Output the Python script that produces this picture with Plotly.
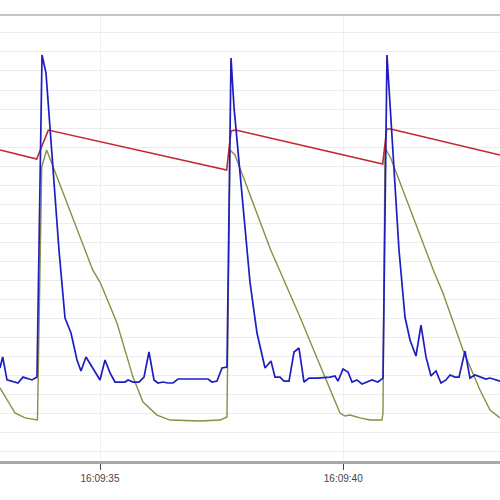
import pandas as pd
import plotly.graph_objects as go

BASE = pd.Timestamp("2024-01-01 16:09:00")

# time in seconds after 16:09:00
blue_t = [32.944, 33.000, 33.088, 33.253, 33.314, 33.417, 33.500, 33.602, 33.705, 33.808,
          33.890, 34.157, 34.281, 34.404, 34.527, 34.609, 34.712, 34.815, 35.000, 35.103,
          35.206, 35.308, 35.411, 35.514, 35.576, 35.678, 35.802, 35.904, 36.007, 36.110,
          36.192, 36.295, 36.398, 36.501, 36.603, 36.912, 37.220, 37.302, 37.405, 37.508,
          37.610, 37.693, 37.754, 38.083, 38.227, 38.392, 38.515, 38.597, 38.700, 38.782,
          38.885, 38.988, 39.090, 39.193, 39.296, 39.460, 39.728, 39.830, 39.892, 39.995,
          40.098, 40.180, 40.283, 40.385, 40.488, 40.591, 40.714, 40.817, 40.899, 41.146,
          41.269, 41.372, 41.495, 41.598, 41.701, 41.804, 41.906, 42.009, 42.112, 42.194,
          42.297, 42.379, 42.503, 42.605, 42.708, 42.811, 42.934, 43.016, 43.222]
blue_v = [4.37, 4.95, 3.74, 3.63, 3.58, 3.89, 3.84, 3.74, 3.89, 20.84,
          19.89, 10.58, 7.00, 6.21, 4.79, 4.21, 4.95, 4.53, 3.74, 4.79,
          4.11, 3.63, 3.63, 3.63, 3.74, 3.63, 3.63, 3.89, 5.21, 3.74,
          3.58, 3.63, 3.58, 3.58, 3.79, 3.79, 3.79, 3.63, 3.68, 4.37,
          4.42, 20.68, 18.11, 8.89, 6.21, 4.37, 4.74, 3.89, 3.89, 3.68,
          3.68, 5.21, 5.42, 3.63, 3.84, 3.84, 3.89, 3.95, 3.68, 4.32,
          4.16, 3.63, 3.74, 3.53, 3.63, 3.74, 3.63, 3.84, 20.84, 10.58,
          7.05, 5.84, 5.00, 6.63, 4.95, 3.95, 4.21, 3.58, 3.74, 4.00,
          3.89, 3.89, 5.26, 3.84, 4.00, 3.89, 3.79, 3.84, 3.68]

red_t = [32.944, 33.699, 33.937, 37.604, 37.693, 37.789, 40.811, 40.893, 40.975, 43.222]
red_v = [15.84, 15.37, 16.89, 14.79, 16.84, 16.89, 15.11, 16.95, 16.95, 15.58]

olive_t = [32.944, 33.088, 33.253, 33.458, 33.715, 33.802, 33.904, 34.850, 35.000, 35.349,
           35.678, 35.884, 36.172, 36.439, 37.055, 37.467, 37.610, 37.672, 37.775, 38.509,
           39.111, 39.460, 39.728, 39.933, 40.036, 40.139, 40.344, 40.550, 40.796, 40.817,
           40.858, 40.975, 41.851, 42.050, 42.461, 42.811, 43.016, 43.222]
olive_v = [3.32, 2.68, 2.00, 1.74, 1.63, 14.95, 15.84, 9.53, 8.89, 6.74,
           3.89, 2.58, 1.89, 1.63, 1.58, 1.63, 1.79, 15.84, 15.58, 10.58,
           7.05, 4.89, 3.21, 2.00, 1.84, 1.89, 1.74, 1.63, 1.63, 2.00,
           15.95, 15.42, 9.53, 8.32, 5.32, 3.21, 2.16, 1.74]

x_start, x_end = 32.9445, 43.2220
y_range = [-0.526, 22.947]


def ts(secs):
    return [BASE + pd.to_timedelta(s, unit="s") for s in secs]


fig = go.Figure()
fig.add_trace(go.Scatter(x=ts(olive_t), y=olive_v, mode="lines",
                         line=dict(color="#8a8f45", width=1.4), showlegend=False))
fig.add_trace(go.Scatter(x=ts(red_t), y=red_v, mode="lines",
                         line=dict(color="#c4282e", width=1.6), showlegend=False))
fig.add_trace(go.Scatter(x=ts(blue_t), y=blue_v, mode="lines",
                         line=dict(color="#1e1ec0", width=1.7), showlegend=False))

fig.update_layout(
    width=500, height=500,
    margin=dict(l=0, r=0, t=15, b=39),
    paper_bgcolor="white", plot_bgcolor="white",
    xaxis=dict(
        type="date",
        range=ts([x_start, x_end]),
        tick0=BASE + pd.to_timedelta(35, unit="s"),
        dtick=5000,
        tickformat="%H:%M:%S",
        showgrid=True, gridcolor="#efefef", gridwidth=1,
        showline=True, linecolor="#a8a8a8", linewidth=3,
        ticks="outside", ticklen=6, tickcolor="#444", tickwidth=1,
        tickfont=dict(family="Liberation Sans, Arial", size=10, color="#444"),
        zeroline=False,
    ),
    yaxis=dict(
        range=y_range,
        tick0=0, dtick=1,
        showticklabels=False,
        showgrid=True, gridcolor="#ececec", gridwidth=1,
        zeroline=False, showline=False, ticks="",
    ),
    shapes=[dict(type="line", xref="paper", yref="paper", x0=0, x1=1, y0=1, y1=1,
                 line=dict(color="#b0b0b0", width=1.5))],
)

fig.write_html("out.html")
